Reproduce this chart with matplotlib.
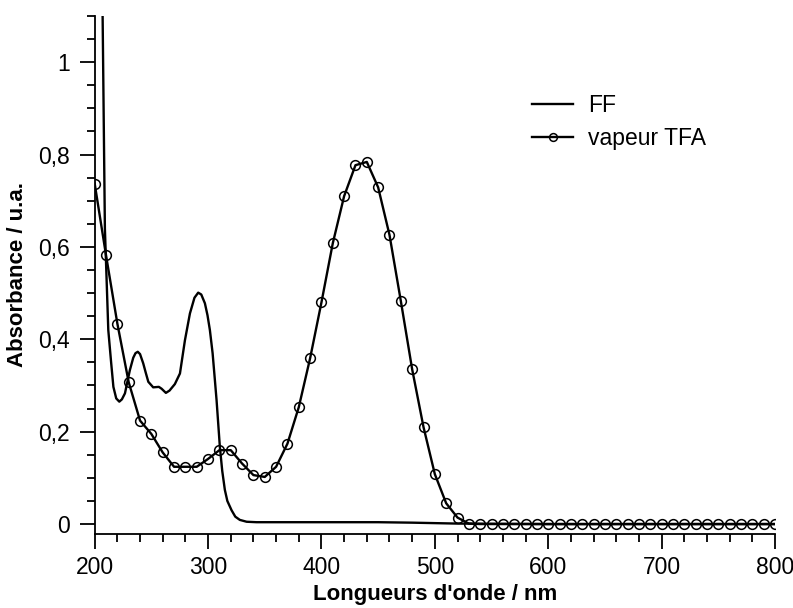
import matplotlib
matplotlib.use("Agg")
import matplotlib.pyplot as plt
from matplotlib.ticker import MultipleLocator, FuncFormatter

plt.rcParams['font.family'] = ['Liberation Sans', 'DejaVu Sans']

# FF spectrum (wavelength in nm, absorbance)
ff_nm = [200, 204, 207, 209, 212, 214.5, 216.5, 219, 221.7, 224, 226.7, 229, 231,
         234, 236, 238, 240, 242.8, 245, 247.3, 251.6, 256.6, 259, 262.8, 266,
         270.7, 275.2, 279.6, 284, 288, 291.3, 294, 297.2, 299.5, 301.6, 304,
         306, 307.5, 310.4, 312.5, 314.8, 317, 320.7, 324, 328, 334, 342.7, 400,
         450, 480, 520, 600, 700, 800]
ff_abs = [3.0, 1.6, 1.1, 0.64, 0.42, 0.35, 0.297, 0.272, 0.265, 0.27, 0.283, 0.31,
          0.333, 0.36, 0.37, 0.373, 0.368, 0.348, 0.328, 0.308, 0.296, 0.297, 0.293,
          0.284, 0.289, 0.303, 0.326, 0.398, 0.456, 0.49, 0.501, 0.497, 0.478, 0.452,
          0.42, 0.37, 0.312, 0.268, 0.167, 0.115, 0.074, 0.05, 0.030, 0.016, 0.009,
          0.005, 0.004, 0.004, 0.004, 0.003, 0.001, 0.0, 0.0, 0.0]

# Spectrum after TFA vapour exposure, sampled every 10 nm
tfa_nm = list(range(200, 801, 10))
tfa_abs = [0.737, 0.582, 0.434, 0.307, 0.224, 0.195, 0.155, 0.124, 0.124, 0.124,
           0.141, 0.160, 0.160, 0.131, 0.106, 0.102, 0.124, 0.174, 0.253, 0.359,
           0.480, 0.608, 0.710, 0.777, 0.784, 0.729, 0.626, 0.483, 0.335, 0.210,
           0.108, 0.045, 0.014, 0.001] + [0.0] * 27

x_ticks = [200, 300, 400, 500, 600, 700, 800]
y_ticks = [0, 0.2, 0.4, 0.6, 0.8, 1.0]

fig = plt.figure(figsize=(7.93, 6.08), dpi=100)
ax = fig.add_axes([0.1194, 0.1225, 0.8579, 0.8512])

ax.plot(ff_nm, ff_abs, color='black', lw=1.7, label='FF')
ax.plot(tfa_nm, tfa_abs, color='black', lw=1.7, marker='o', ms=7,
        mfc='none', mec='black', mew=1.1, label='vapeur TFA')

ax.set_xlim(200, 800)
ax.set_ylim(-0.0205, 1.1)

for s in ('top', 'right'):
    ax.spines[s].set_visible(False)
for s in ('left', 'bottom'):
    ax.spines[s].set_linewidth(1.3)

ax.set_xticks(x_ticks)
ax.set_yticks(y_ticks)
ax.xaxis.set_minor_locator(MultipleLocator(20))
ax.yaxis.set_minor_locator(MultipleLocator(0.05))
ax.yaxis.set_major_formatter(FuncFormatter(
    lambda v, p: ('%g' % round(v, 2)).replace('.', ',')))
ax.tick_params(which='major', direction='out', length=10.5, width=1.3,
               labelsize=16.5)
ax.tick_params(axis='y', which='major', pad=7.5)
ax.tick_params(axis='x', which='major', pad=6)
ax.tick_params(which='minor', direction='out', length=6, width=1.3)

ax.set_xlabel("Longueurs d'onde / nm", fontsize=16, fontweight='bold', labelpad=3)
ax.set_ylabel("Absorbance / u.a.", fontsize=16, fontweight='bold', labelpad=7)

leg = ax.legend(loc='upper left', bbox_to_anchor=(0.643, 0.849), frameon=False,
                fontsize=16.5, handlelength=1.8, handletextpad=0.65,
                borderpad=0, borderaxespad=0, labelspacing=0.45, markerscale=0.8)

fig.savefig('out.png', dpi=100)
